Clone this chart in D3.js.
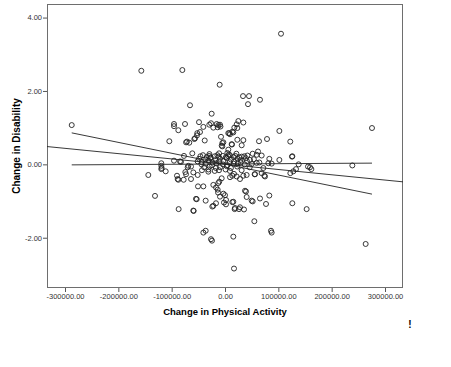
<!DOCTYPE html>
<html>
<head>
<meta charset="utf-8">
<script src="https://cdn.jsdelivr.net/npm/d3@7"></script>
<style>
  html, body { margin: 0; padding: 0; background: #fff; }
  svg { display: block; }
</style>
</head>
<body>
<svg id="chart" width="451" height="367"></svg>
<script>
// ---- data ----
const xTitle = "Change in Physical Activity";
const yTitle = "Change in Disability";
const xTicks = [-300000, -200000, -100000, 0, 100000, 200000, 300000];
const yTicks = [-2, 0, 2, 4];
const xDomain = [-333750, 333750];
const yDomain = [-3.37, 4.37];

// scatter points: change in physical activity (x), change in disability (y)
const activityChange = [
  -287400, -156900, -80000, -10000, 105000, 275600, 238750, 263750, 16900, 15600,
  86250, 87500, 55000, 153100, 126250, -143800, -131250, -119400, -119400, -119400,
  -111200, -95600, -82500, -76900, -61300, -90000, -88750, -87500, -77500, -74400,
  -73100, -68750, -63750, -59400, -51250, -63750, -50600, -40600, -53100, -36250,
  -21900, -16900, -86900, -58750, -40600, -36250, -26250, -24400, -12500, -10700,
  -13750, -13000, -3100, 0, 1900, -1900, -6250, 1900, 13750, 18100,
  26250, 35600, 28100, 50000, 65600, 76900, 83100, 39400, 40600, 122500,
  128100, 133100, 138100, 155600, 161900, 125600, 101900, 68750, 73750, 55600,
  40600, 34400, 28100, 13750, 16900, 21900, 9400, 81250, 87500, 64400,
  59400, 50000, 46900, 31250, -65600, -25000, -95600, -95600, -75000, -87500,
  -48750, -40600, -52000, -52500, -56250, -46900, -38000, -104400, -73000, -67000,
  -29400, -21900, -12500, -9400, -8500, -7500, -3100, -6200, 6200, 33750,
  45000, 43100, 65600, 101900, 25000, 34400, 21900, 23100, 15600, 9400,
  23100, 34400, 13100, 31300, 63750, 78750, 122400, 126250, 51900, 61900,
  68750, 41900, 83100, 59400, -57500, -71250, -84400, -70000, -118750, -26250,
  -15600, -13750, -5000, 12500, -5000, 6250, 4400, 17500, 13750, 8100,
  -31250, -21900, -16900, -9400, 18750, 37500, 51900, -23750, 159400, 71900,
  75000, 56250, -54400, -59400, 15600,
  // dense centre
  -46200, -41300, -34100, -29600, -26800, -19200, -14300, -11700, -4100, 1300,
  6200, 9100, 16400, 19300, 26900, 36200,
  -48700, -37100, -27400, -17600, -9200, 3100, 11300, 23400, 29100, 39200, 54100,
  -51300, -43600, -31200, -23100, -11400, -2800, 8900, 17200, 29600, 41100,
  -44100, -36300, -24200, -16100, -3900, 4300, 16200, 24100, 36800,
  -39100, -28700, -17100, -9100, 3200, 11100, 22900, 46300,
  -43200, -31100, -19300, -11200, 1100, 9300, 31200,
  -29200, -11100, 7100, 21300
];
const disabilityChange = [
  1.07, 2.55, 2.57, 2.17, 3.56, 0.99, -0.03, -2.17, -2.84, -1.97,
  -1.81, -1.86, -1.55, -1.22, -1.06, -0.29, -0.86, 0.03, -0.04, -0.13,
  -0.19, 0.10, 0.07, 0.23, 0.30, -0.31, -0.40, -0.42, -0.42, -0.21,
  -0.27, -0.04, -0.06, -0.22, -0.29, -0.40, -0.60, -0.60, -0.95, -0.99,
  -1.13, -1.06, -1.22, -1.27, -1.86, -1.81, -2.04, -2.08, -0.51, -0.47,
  -0.69, -0.77, -0.80, -0.84, -0.97, -1.04, -0.38, -1.09, -1.03, -1.22,
  -1.22, -1.23, -1.17, -0.99, -0.93, -1.08, -0.85, -0.74, -0.89, -0.24,
  -0.19, -0.13, 0.00, -0.06, -0.13, 0.21, 0.12, -0.24, -0.31, -0.27,
  -0.29, -0.31, -0.40, -0.31, -0.26, -0.33, -0.35, 0.03, 0.02, 0.05,
  0.04, 0.01, 0.12, 0.21, 1.61, 1.38, 1.10, 1.04, 1.10, 0.93,
  1.15, 1.02, 0.85, 0.79, 0.71, 0.88, 0.65, 0.63, 0.60, 0.59,
  1.08, 1.00, 1.07, 1.08, 1.03, 0.75, 0.60, 0.51, 0.85, 1.86,
  1.86, 1.64, 1.76, 0.91, 1.18, 1.14, 1.09, 0.99, 0.87, 0.82,
  0.67, 0.66, 0.54, 0.52, 0.63, 0.69, 0.62, 0.22, 0.29, 0.35,
  0.24, 0.24, 0.15, 0.26, 0.69, 0.62, 0.08, -0.08, -0.10, 1.12,
  1.10, 1.01, 0.58, 0.55, 0.49, 0.40, 0.31, 1.00, 0.89, 0.85,
  -0.20, -0.56, -0.63, -0.88, -1.19, -0.72, -1.01, -1.15, -0.08, -0.10,
  -0.33, -0.27, -0.94, -1.26, -1.02,
  0.22, 0.25, 0.20, 0.23, 0.19, 0.22, 0.25, 0.21, 0.23, 0.19,
  0.22, 0.25, 0.20, 0.23, 0.19, 0.22,
  0.15, 0.13, 0.17, 0.12, 0.15, 0.17, 0.13, 0.15, 0.12, 0.17, 0.14,
  0.08, 0.06, 0.10, 0.05, 0.08, 0.10, 0.06, 0.08, 0.05, 0.09,
  0.00, 0.02, -0.02, 0.03, 0.00, -0.02, 0.02, 0.03, 0.00,
  -0.08, -0.06, -0.10, -0.08, -0.05, -0.10, -0.06, -0.08,
  -0.16, -0.14, -0.18, -0.16, -0.14, -0.18, -0.16,
  0.28, 0.30, 0.27, 0.29
];

// fit lines: start/end x and y values
const fitStartX = [-333750, -287400, -287400];
const fitStartY = [0.485, 0.858, -0.014];
const fitEndX   = [333750, 275600, 275600];
const fitEndY   = [-0.477, -0.812, 0.033];

// ---- drawing ----
const svg = d3.select("#chart");
const plot = { left: 47, right: 403, top: 4, bottom: 288 };

const x = d3.scaleLinear().domain(xDomain).range([plot.left, plot.right]);
const y = d3.scaleLinear().domain(yDomain).range([plot.bottom, plot.top]);
const fmt = d => d.toFixed(2);

// frame
svg.append("rect")
  .attr("x", plot.left + 0.5).attr("y", plot.top + 0.5)
  .attr("width", plot.right - plot.left - 1).attr("height", plot.bottom - plot.top - 1)
  .attr("fill", "none").attr("stroke", "#6e6e6e").attr("stroke-width", 1);

// axes
const xAxis = svg.append("g")
  .attr("transform", `translate(0,${plot.bottom})`)
  .call(d3.axisBottom(x).tickValues(xTicks).tickFormat(fmt).tickSize(4).tickPadding(2));
const yAxis = svg.append("g")
  .attr("transform", `translate(${plot.left},0)`)
  .call(d3.axisLeft(y).tickValues(yTicks).tickFormat(fmt).tickSize(4).tickPadding(1));
[xAxis, yAxis].forEach(g => {
  g.select(".domain").remove();
  g.selectAll(".tick line").attr("stroke", "#555");
  g.selectAll(".tick text")
    .attr("fill", "#333")
    .style("font-family", "'Liberation Sans', Arial, sans-serif")
    .style("font-size", "7.5px");
});

// points
const pts = activityChange.map((v, i) => [v, disabilityChange[i]]);
svg.append("g").selectAll("circle").data(pts).join("circle")
  .attr("cx", d => x(d[0])).attr("cy", d => y(d[1])).attr("r", 2.5)
  .attr("fill", "none").attr("stroke", "#222").attr("stroke-width", 0.9);

// fit lines
svg.append("g").selectAll("line").data(fitStartX.map((v, i) => i)).join("line")
  .attr("x1", i => x(fitStartX[i])).attr("y1", i => y(fitStartY[i]))
  .attr("x2", i => x(fitEndX[i])).attr("y2", i => y(fitEndY[i]))
  .attr("stroke", "#222").attr("stroke-width", 0.9);

// titles
svg.append("text")
  .attr("x", (plot.left + plot.right) / 2).attr("y", 314.5)
  .attr("text-anchor", "middle")
  .style("font-family", "'Liberation Sans', Arial, sans-serif")
  .style("font-weight", "bold").style("font-size", "9.5px")
  .text(xTitle);
svg.append("text")
  .attr("transform", `translate(19.5,${(plot.top + plot.bottom) / 2}) rotate(-90)`)
  .attr("text-anchor", "middle")
  .style("font-family", "'Liberation Sans', Arial, sans-serif")
  .style("font-weight", "bold").style("font-size", "10px")
  .text(yTitle);
svg.append("text")
  .attr("x", 410).attr("y", 327.5).attr("text-anchor", "middle")
  .style("font-family", "'Liberation Sans', Arial, sans-serif")
  .style("font-weight", "bold").style("font-size", "10px")
  .text("!");
</script>
</body>
</html>
